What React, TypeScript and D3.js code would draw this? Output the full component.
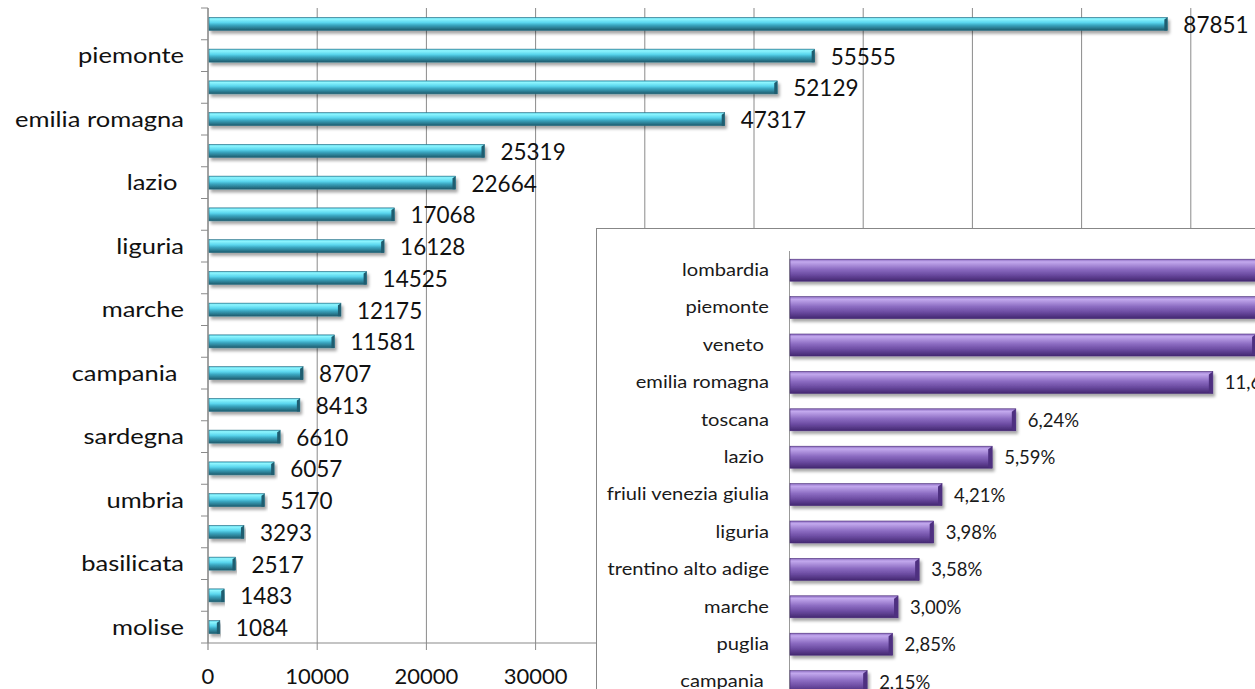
import React from "react";
import * as d3 from "d3";

const regions = [
  "lombardia", "piemonte", "veneto", "emilia romagna", "toscana", "lazio ",
  "friuli venezia giulia", "liguria", "trentino alto adige", "marche", "puglia",
  "campania ", "abruzzo", "sardegna", "sicilia", "umbria", "calabria",
  "basilicata", "valle d'aosta", "molise",
];
const values = [
  87851, 55555, 52129, 47317, 25319, 22664, 17068, 16128, 14525, 12175, 11581,
  8707, 8413, 6610, 6057, 5170, 3293, 2517, 1483, 1084,
];
const xTicks = [0, 10000, 20000, 30000, 40000, 50000, 60000, 70000, 80000, 90000];
const visibleTickLabels = [0, 10000, 20000, 30000];

const insetRegions = [
  "lombardia", "piemonte", "veneto ", "emilia romagna", "toscana", "lazio ",
  "friuli venezia giulia", "liguria", "trentino alto adige", "marche", "puglia",
  "campania ",
];
const insetPercent = [21.66, 13.7, 12.85, 11.66, 6.24, 5.59, 4.21, 3.98, 3.58, 3.0, 2.85, 2.15];

const FONT = "Lato, 'Open Sans', sans-serif";

export default function App() {
  const W = 1255;
  const H = 689;

  // main chart scales
  const x = d3.scaleLinear().domain([0, 100000]).range([208, 1300]);
  const y = d3.scaleBand<string>().domain(regions).range([8, 643]).paddingInner(0.6).paddingOuter(0.3);
  const bandStep = y.step();
  const bandStart = 8;
  const barH = 13;

  // inset scales
  const ix = d3.scaleLinear().domain([0, 10]).range([789, 789 + 363.5]);
  const iy = d3.scaleBand<string>()
    .domain(insetRegions.map((d, i) => i + ""))
    .range([251.5, 251.5 + 37.4 * insetRegions.length]);
  const ibarH = 22;

  const fmtPct = (v: number) => v.toFixed(2).replace(".", ",") + "%";

  return (
    <svg width={W} height={H} style={{ position: "absolute", left: 0, top: 0, background: "#fff" }}>
      <defs>
        <linearGradient id="cyanGrad" x1="0" y1="0" x2="0" y2="1">
          <stop offset="0" stopColor="#4fc4dc" />
          <stop offset="0.12" stopColor="#8ef6ff" />
          <stop offset="0.4" stopColor="#5ad6ee" />
          <stop offset="0.6" stopColor="#3aa6c0" />
          <stop offset="1" stopColor="#1e5a6c" />
        </linearGradient>
        <linearGradient id="purpleGrad" x1="0" y1="0" x2="0" y2="1">
          <stop offset="0" stopColor="#8a6abf" />
          <stop offset="0.12" stopColor="#c3a9ee" />
          <stop offset="0.45" stopColor="#8c6cc2" />
          <stop offset="0.7" stopColor="#6c4ca2" />
          <stop offset="1" stopColor="#432770" />
        </linearGradient>
        <filter id="shadow" x="-5%" y="-50%" width="110%" height="200%">
          <feDropShadow dx="2" dy="3" stdDeviation="1.5" floodColor="#000" floodOpacity="0.35" />
        </filter>
      </defs>

      {/* gridlines */}
      {xTicks.map((t) => (
        <line key={"g" + t} x1={x(t)} x2={x(t)} y1={8} y2={t === 0 ? 643 : 650}
          stroke="#8a8a8a" strokeWidth={1} />
      ))}
      {/* y axis */}
      <line x1={208} x2={208} y1={8} y2={650} stroke="#8a8a8a" strokeWidth={1.2} />
      {d3.range(regions.length + 1).map((i) => (
        <line key={"yt" + i} x1={201} x2={208} y1={bandStart + i * bandStep} y2={bandStart + i * bandStep}
          stroke="#8a8a8a" strokeWidth={1} />
      ))}
      {/* x axis */}
      <line x1={208} x2={1300} y1={643} y2={643} stroke="#8a8a8a" strokeWidth={1.2} />
      {visibleTickLabels.map((t) => (
        <text key={"xl" + t} x={x(t)} y={684} textAnchor="middle" fontFamily={FONT}
          fontSize={22} fill="#111">{t}</text>
      ))}

      {/* category labels (every other) */}
      {regions.map((r, i) =>
        i % 2 === 1 ? (
          <text key={"cl" + i}
            transform={`translate(184,${(y(r) as number) + y.bandwidth() / 2}) scale(1.16,1)`}
            dy="0.35em" textAnchor="end" fontFamily={FONT} fontSize={22} fill="#111"
            style={{ whiteSpace: "pre" }}>{r}</text>
        ) : null
      )}

      {/* bars */}
      {regions.map((r, i) => {
        const cy = (y(r) as number) + y.bandwidth() / 2;
        const x1 = x(values[i]);
        return (
          <g key={"b" + i}>
            <rect x={209} y={cy - barH / 2} width={x1 - 209} height={barH}
              fill="url(#cyanGrad)" stroke="#2a6f82" strokeWidth={0.6} filter="url(#shadow)" />
            <polygon points={`${x1 - 3},${cy - barH / 2 + 2} ${x1},${cy - barH / 2} ${x1},${cy + barH / 2} ${x1 - 3},${cy + barH / 2}`}
              fill="#1f5d70" />
            <text x={x1 + 16} y={cy} dy="0.4em" fontFamily={FONT} fontSize={22.5} fill="#111">{values[i]}</text>
          </g>
        );
      })}

      {/* inset panel */}
      <rect x={596.5} y={228.5} width={720} height={520} fill="#fff" stroke="#878787" strokeWidth={1} />
      <line x1={789.5} x2={789.5} y1={251} y2={700} stroke="#9a9a9a" strokeWidth={1} />
      {insetRegions.map((r, i) => {
        const cy = (iy(i + "") as number) + iy.bandwidth() / 2;
        const x1 = ix(insetPercent[i]);
        return (
          <g key={"ib" + i}>
            <text transform={`translate(769,${cy}) scale(1.22,1)`} dy="0.35em" textAnchor="end"
              fontFamily={FONT} fontSize={16.5}
              fill="#1a1a1a" style={{ whiteSpace: "pre" }}>{r}</text>
            <rect x={790} y={cy - ibarH / 2} width={x1 - 790} height={ibarH}
              fill="url(#purpleGrad)" stroke="#4a2d78" strokeWidth={0.6} filter="url(#shadow)" />
            <polygon points={`${x1 - 4},${cy - ibarH / 2 + 3} ${x1},${cy - ibarH / 2} ${x1},${cy + ibarH / 2} ${x1 - 4},${cy + ibarH / 2 - 1}`}
              fill="#4e3080" />
            {x1 + 12 < W ? (
              <text x={x1 + 12} y={cy} dy="0.38em" fontFamily={FONT} fontSize={18.5} fill="#1a1a1a">{fmtPct(insetPercent[i])}</text>
            ) : null}
          </g>
        );
      })}
    </svg>
  );
}
